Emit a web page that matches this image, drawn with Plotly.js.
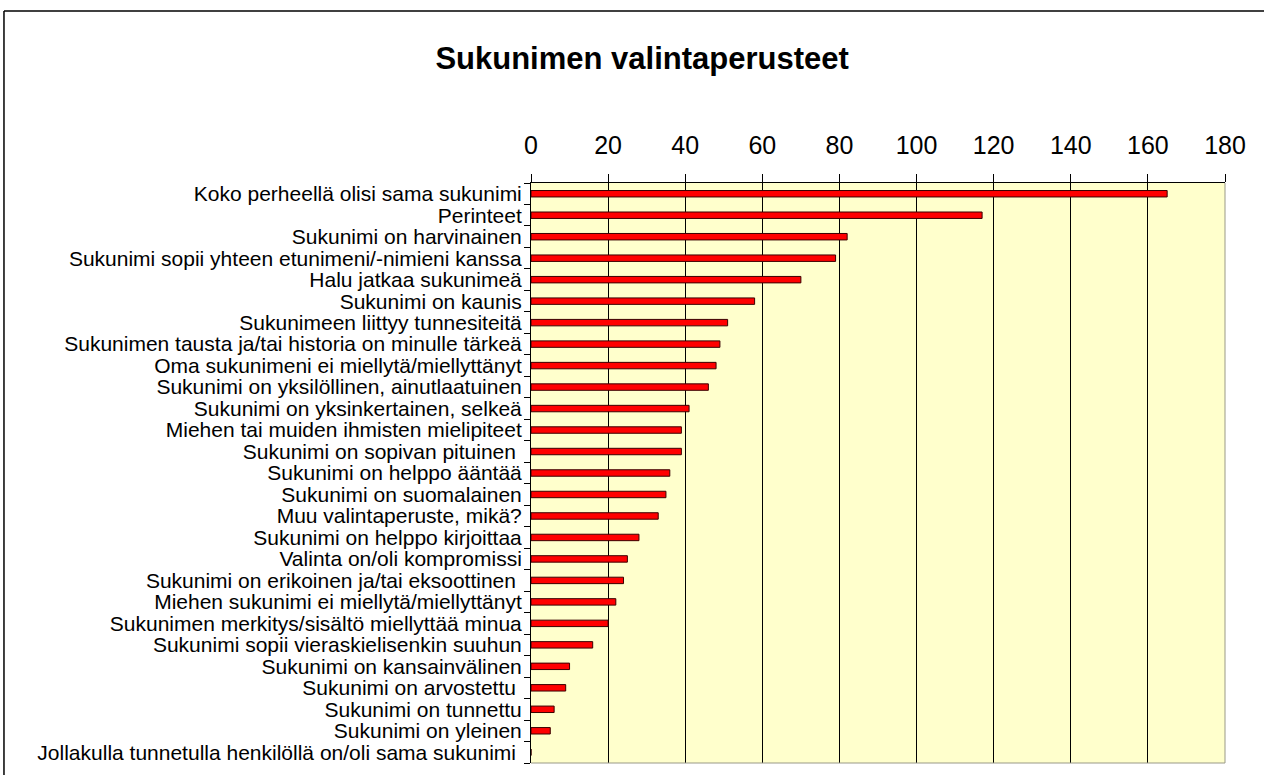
<!DOCTYPE html>
<html>
<head>
<meta charset="utf-8">
<script src="https://cdn.plot.ly/plotly-3.0.1.min.js"></script>
<style>html,body{margin:0;padding:0;background:#fff;overflow:hidden;}#chart{width:1264px;height:775px;}</style>
</head>
<body>
<div id="chart"></div>
<script>
const chartTitle = "Sukunimen valintaperusteet";
const categories = [
  "Koko perheellä olisi sama sukunimi",
  "Perinteet",
  "Sukunimi on harvinainen",
  "Sukunimi sopii yhteen etunimeni/-nimieni kanssa",
  "Halu jatkaa sukunimeä",
  "Sukunimi on kaunis",
  "Sukunimeen liittyy tunnesiteitä",
  "Sukunimen tausta ja/tai historia on minulle tärkeä",
  "Oma sukunimeni ei miellytä/miellyttänyt",
  "Sukunimi on yksilöllinen, ainutlaatuinen",
  "Sukunimi on yksinkertainen, selkeä",
  "Miehen tai muiden ihmisten mielipiteet",
  "Sukunimi on sopivan pituinen\u00a0",
  "Sukunimi on helppo ääntää",
  "Sukunimi on suomalainen",
  "Muu valintaperuste, mikä?",
  "Sukunimi on helppo kirjoittaa",
  "Valinta on/oli kompromissi",
  "Sukunimi on erikoinen ja/tai eksoottinen\u00a0",
  "Miehen sukunimi ei miellytä/miellyttänyt",
  "Sukunimen merkitys/sisältö miellyttää minua",
  "Sukunimi sopii vieraskielisenkin suuhun",
  "Sukunimi on kansainvälinen",
  "Sukunimi on arvostettu\u00a0",
  "Sukunimi on tunnettu",
  "Sukunimi on yleinen",
  "Jollakulla tunnetulla henkilöllä on/oli sama sukunimi\u00a0"
];
const counts = [165, 117, 82, 79, 70, 58, 51, 49, 48, 46, 41, 39, 39, 36, 35, 33, 28, 25, 24, 22, 20, 16, 10, 9, 6, 5, 0];
const xTickVals = [0, 20, 40, 60, 80, 100, 120, 140, 160, 180];

const trace = {
  type: "bar",
  orientation: "h",
  y: categories,
  x: counts,
  width: 0.3,
  marker: {color: "#ff0000", line: {color: "#3a0000", width: 1}},
  hoverinfo: "x+y"
};

const layout = {
  width: 1264,
  height: 775,
  margin: {l: 531, r: 39, t: 183, b: 12, pad: 0},
  paper_bgcolor: "#ffffff",
  plot_bgcolor: "#ffffcc",
  showlegend: false,
  bargap: 0.7,
  font: {family: "Liberation Sans, Arial, sans-serif", color: "#000"},
  title: {
    text: "<b>" + chartTitle + "</b>",
    x: 0.508, xref: "container", xanchor: "center",
    y: 0.925, yref: "container", yanchor: "middle",
    font: {family: "Liberation Sans, Arial, sans-serif", size: 31, color: "#000"}
  },
  xaxis: {
    side: "top",
    range: [0, 180],
    tickvals: xTickVals,
    ticktext: xTickVals.map(String),
    showgrid: true,
    gridcolor: "#000000",
    gridwidth: 1,
    zeroline: false,
    showline: true,
    linecolor: "#000000",
    linewidth: 1,
    ticks: "outside",
    ticklen: 8,
    tickcolor: "#000000",
    ticklabelstandoff: 10,
    tickfont: {size: 25, family: "Liberation Sans, Arial, sans-serif"},
    fixedrange: true
  },
  yaxis: {
    type: "category",
    autorange: "reversed",
    tickmode: "array",
    tickvals: categories,
    ticktext: categories,
    showgrid: false,
    zeroline: false,
    showline: true,
    linecolor: "#000000",
    linewidth: 1,
    ticks: "outside",
    tickson: "boundaries",
    ticklen: 6,
    tickcolor: "#000000",
    ticklabelstandoff: 4,
    tickfont: {size: 21, family: "Liberation Sans, Arial, sans-serif"},
    fixedrange: true
  },
  shapes: [
    {type: "line", xref: "paper", yref: "paper", x0: 1, x1: 1, y0: 0, y1: 1, line: {color: "#999988", width: 1}},
    {type: "line", xref: "paper", yref: "paper", x0: 0, x1: 1, y0: 0, y1: 0, line: {color: "#999988", width: 1}},
    {type: "line", xref: "paper", yref: "paper", x0: -0.7594, x1: 1.1, y0: 1.2966, y1: 1.2966, line: {color: "#000000", width: 1.5}},
    {type: "line", xref: "paper", yref: "paper", x0: -0.7594, x1: -0.7594, y0: -0.03, y1: 1.2966, line: {color: "#000000", width: 1.5}}
  ]
};

Plotly.newPlot("chart", [trace], layout, {displayModeBar: false, staticPlot: true});
</script>
</body>
</html>
